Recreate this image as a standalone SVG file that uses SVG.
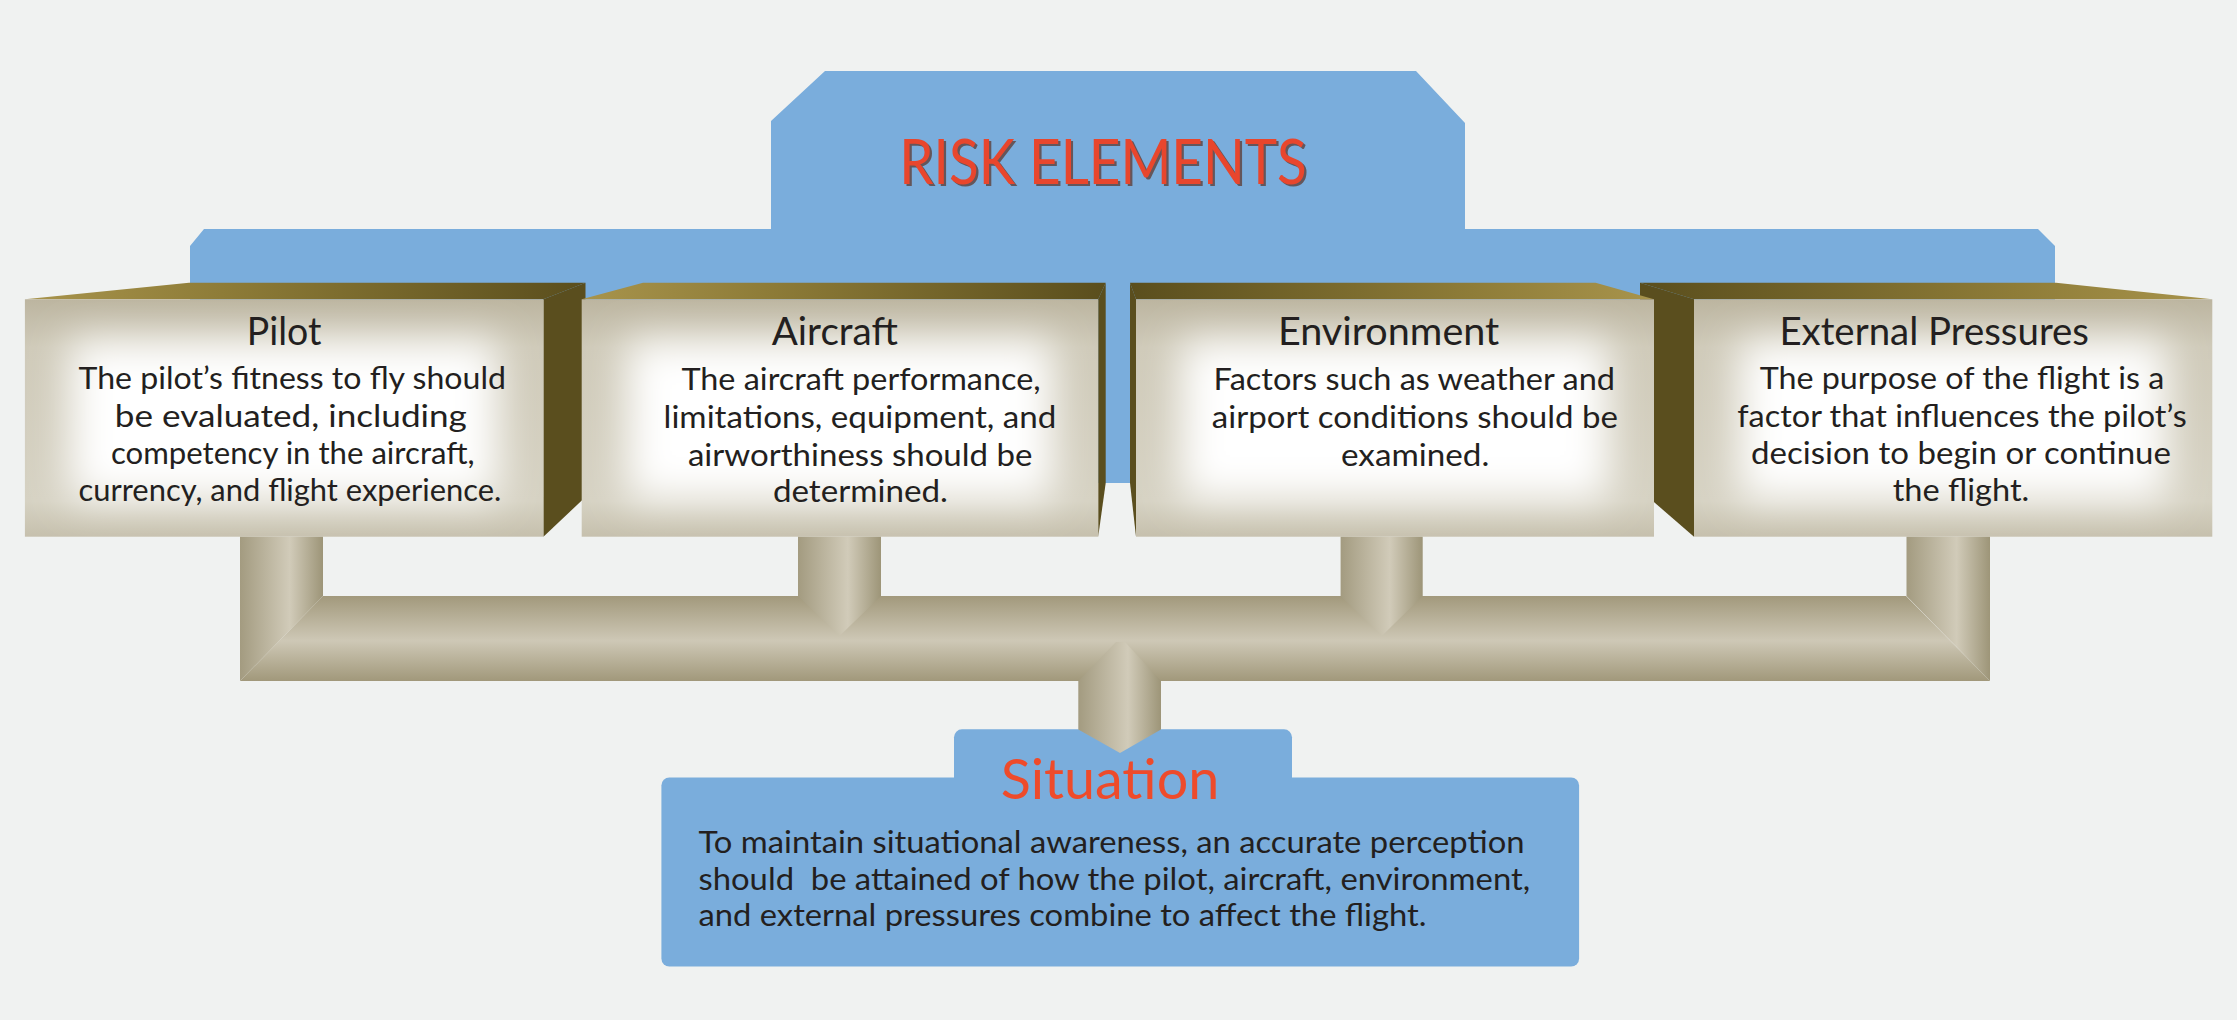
<svg xmlns="http://www.w3.org/2000/svg" width="2237" height="1020" viewBox="0 0 2237 1020">
<style>
.blue{fill:#7AADDC}
.side{fill:#5A4E1E}
.body{font-family:Lato,"Open Sans","Liberation Sans",sans-serif;font-size:30px;fill:#231F20}
.title{font-family:Lato,"Open Sans","Liberation Sans",sans-serif;font-size:38px;fill:#231F20}
.glow{fill:#FFFFFF;filter:url(#blur)}
.base{fill:url(#faceBase)}
.stem{fill:url(#stemG)}
</style>
<defs>
<filter id="blur" x="-30%" y="-40%" width="160%" height="180%"><feGaussianBlur stdDeviation="20"/></filter>
<linearGradient id="faceBase" x1="0" y1="0" x2="0" y2="1">
<stop offset="0" stop-color="#BCB5A0"/><stop offset="0.2" stop-color="#CFCAB9"/><stop offset="0.85" stop-color="#D6D2C3"/><stop offset="1" stop-color="#C6C0AD"/>
</linearGradient>
<linearGradient id="topL" x1="0" y1="0" x2="1" y2="0">
<stop offset="0" stop-color="#A8944C"/><stop offset="0.35" stop-color="#8E7C38"/><stop offset="1" stop-color="#5A4E1D"/>
</linearGradient>
<linearGradient id="topR" x1="0" y1="0" x2="1" y2="0">
<stop offset="0" stop-color="#5A4E1D"/><stop offset="0.65" stop-color="#8E7C38"/><stop offset="1" stop-color="#A8944C"/>
</linearGradient>
<linearGradient id="stemG" x1="0" y1="0" x2="1" y2="0">
<stop offset="0" stop-color="#A39B80"/><stop offset="0.6" stop-color="#D1CBB9"/><stop offset="1" stop-color="#9D9578"/>
</linearGradient>
<linearGradient id="barG" gradientUnits="userSpaceOnUse" x1="0" y1="596" x2="0" y2="682">
<stop offset="0" stop-color="#A2997C"/><stop offset="0.52" stop-color="#CEC8B6"/><stop offset="1" stop-color="#A09779"/>
</linearGradient>
<clipPath id="cpPilot"><rect x="24.9" y="299.3" width="518.5" height="237.4"/></clipPath>
<clipPath id="cpAircraft"><rect x="581.7" y="299.3" width="516.5" height="237.4"/></clipPath>
<clipPath id="cpEnv"><rect x="1136" y="299.3" width="518" height="237.4"/></clipPath>
<clipPath id="cpExt"><rect x="1694" y="299.3" width="518.3" height="237.4"/></clipPath>
</defs>

<rect x="0" y="0" width="2237" height="1020" fill="#F0F2F1"/>

<g id="risk-elements">
<polygon class="blue" points="190,246 204,229 771,229 771,121 825,71 1416,71 1465,123 1465,229 2038,229 2055,246 2055,300 1465,300 1465,483 771,483 771,300 190,300"/>
<text x="901.5" y="186.2" font-family="Lato,'Open Sans','Liberation Sans',sans-serif" font-size="62" fill="#5E3A30" fill-opacity="0.75" textLength="407.4" lengthAdjust="spacingAndGlyphs">RISK ELEMENTS</text>
<text x="899.3" y="184" font-family="Lato,'Open Sans','Liberation Sans',sans-serif" font-size="62" fill="#E8462D" textLength="407.4" lengthAdjust="spacingAndGlyphs">RISK ELEMENTS</text>
</g>

<g id="node-pilot">
<polygon fill="url(#topL)" points="24.9,299.3 189,282.7 585.5,282.7 543.4,299.3"/>
<polygon class="side" points="543.4,299.3 585.5,282.7 585.5,497 543.4,536.7"/>
<rect class="base" x="24.9" y="299.3" width="518.5" height="237.4"/>
<g clip-path="url(#cpPilot)"><rect class="glow" x="70" y="340" width="428" height="160"/></g>
<text class="title" x="246.8" y="345" textLength="74.6" lengthAdjust="spacingAndGlyphs">Pilot</text>
<text class="body" x="78.5" y="389.3" textLength="427.5" lengthAdjust="spacingAndGlyphs">The pilot’s fitness to fly should</text>
<text class="body" x="114.8" y="426.7" textLength="352.1" lengthAdjust="spacingAndGlyphs">be evaluated, including</text>
<text class="body" x="111" y="463.7" textLength="363.6" lengthAdjust="spacingAndGlyphs">competency in the aircraft,</text>
<text class="body" x="78.5" y="500.7" textLength="422.8" lengthAdjust="spacingAndGlyphs">currency, and flight experience.</text>
</g>

<g id="node-aircraft">
<polygon fill="url(#topL)" points="581.7,299.3 643,282.7 1105.7,282.7 1098.2,299.3"/>
<polygon class="side" points="1098.2,299.3 1105.7,282.7 1105.7,483 1098.2,536.7"/>
<rect class="base" x="581.7" y="299.3" width="516.5" height="237.4"/>
<g clip-path="url(#cpAircraft)"><rect class="glow" x="627" y="340" width="426" height="160"/></g>
<text class="title" x="771.8" y="345" textLength="126.1" lengthAdjust="spacingAndGlyphs">Aircraft</text>
<text class="body" x="681.4" y="390" textLength="359.3" lengthAdjust="spacingAndGlyphs">The aircraft performance,</text>
<text class="body" x="663.6" y="427.7" textLength="392.8" lengthAdjust="spacingAndGlyphs">limitations, equipment, and</text>
<text class="body" x="687.9" y="465.7" textLength="344.6" lengthAdjust="spacingAndGlyphs">airworthiness should be</text>
<text class="body" x="772.9" y="501.7" textLength="175" lengthAdjust="spacingAndGlyphs">determined.</text>
</g>

<g id="node-external-pressures">
<polygon fill="url(#topR)" points="1694,299.3 1640,282.7 2056,282.7 2212.3,299.3"/>
<polygon class="side" points="1694,299.3 1640,282.7 1640,490 1694,536.7"/>
<rect class="base" x="1694" y="299.3" width="518.3" height="237.4"/>
<g clip-path="url(#cpExt)"><rect class="glow" x="1739" y="340" width="428" height="160"/></g>
<text class="title" x="1779.4" y="345" textLength="309.6" lengthAdjust="spacingAndGlyphs">External Pressures</text>
<text class="body" x="1759.7" y="389.3" textLength="404.6" lengthAdjust="spacingAndGlyphs">The purpose of the flight is a</text>
<text class="body" x="1737.3" y="426.7" textLength="449.4" lengthAdjust="spacingAndGlyphs">factor that influences the pilot’s</text>
<text class="body" x="1751" y="463.7" textLength="420" lengthAdjust="spacingAndGlyphs">decision to begin or continue</text>
<text class="body" x="1892.7" y="500.7" textLength="136.6" lengthAdjust="spacingAndGlyphs">the flight.</text>
</g>

<g id="node-environment">
<polygon fill="url(#topR)" points="1136,299.3 1130,282.7 1595.6,282.7 1654,299.3"/>
<polygon class="side" points="1136,299.3 1130,282.7 1130,483 1136,536.7"/>
<rect class="base" x="1136" y="299.3" width="518" height="237.4"/>
<g clip-path="url(#cpEnv)"><rect class="glow" x="1181" y="340" width="428" height="160"/></g>
<text class="title" x="1277.9" y="345" textLength="221.4" lengthAdjust="spacingAndGlyphs">Environment</text>
<text class="body" x="1213.6" y="390" textLength="401.4" lengthAdjust="spacingAndGlyphs">Factors such as weather and</text>
<text class="body" x="1211.8" y="427.7" textLength="406.1" lengthAdjust="spacingAndGlyphs">airport conditions should be</text>
<text class="body" x="1341" y="465.7" textLength="148.3" lengthAdjust="spacingAndGlyphs">examined.</text>
</g>

<g id="node-situation">
<rect class="blue" x="954" y="729.3" width="338" height="120" rx="8" ry="8"/>
<rect class="blue" x="661.4" y="777.5" width="917.7" height="189" rx="8" ry="8"/>
<text x="1000.7" y="799.3" font-family="Lato,'Open Sans','Liberation Sans',sans-serif" font-size="56" fill="#EE4B2B" textLength="218.6" lengthAdjust="spacingAndGlyphs">Situation</text>
<text class="body" x="698.5" y="853.3" textLength="826" lengthAdjust="spacingAndGlyphs">To maintain situational awareness, an accurate perception</text>
<text class="body" x="698.5" y="890" textLength="831.7" lengthAdjust="spacingAndGlyphs" xml:space="preserve">should  be attained of how the pilot, aircraft, environment,</text>
<text class="body" x="698.5" y="926" textLength="728" lengthAdjust="spacingAndGlyphs">and external pressures combine to affect the flight.</text>
</g>

<g id="connectors">
<polygon fill="url(#barG)" points="240,681 323,596 1906,596 1990,681"/>
<polygon class="stem" points="240,536.7 323,536.7 323,596 240,681"/>
<polygon class="stem" points="798,536.7 881,536.7 881,596 839.5,636 798,596"/>
<polygon class="stem" points="1340.6,536.7 1422.7,536.7 1422.7,596 1381.7,636 1340.6,596"/>
<polygon class="stem" points="1906.5,536.7 1990,536.7 1990,681 1906.5,596"/>
<polygon class="stem" points="1078.3,681 1116,642 1125,642 1161,681 1161,729.5 1120,753 1078.3,729.5"/>
</g>
</svg>
